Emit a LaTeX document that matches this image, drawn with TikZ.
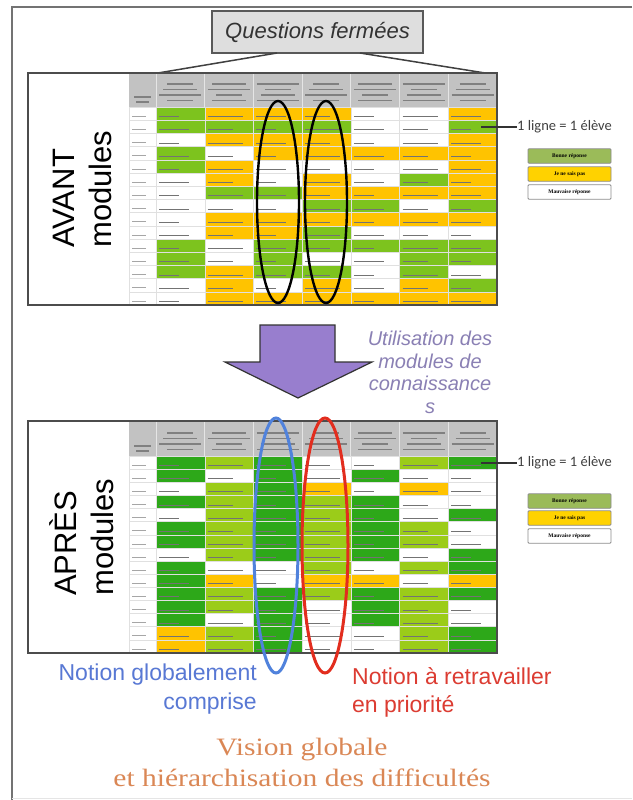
\documentclass[tikz,border=0pt]{standalone}
\usepackage{fontspec}
\setmainfont{Liberation Sans}
\newfontfamily\calfont{Carlito}
\newfontfamily\visfont{Liberation Serif}
\definecolor{cG}{RGB}{125,195,30}
\definecolor{cD}{RGB}{45,168,25}
\definecolor{cL}{RGB}{155,204,25}
\definecolor{cY}{RGB}{255,195,0}
\definecolor{cW}{RGB}{255,255,255}
\definecolor{lgG}{RGB}{155,187,89}
\definecolor{lgY}{RGB}{255,210,0}
\definecolor{arrowfill}{RGB}{152,126,206}
\definecolor{utilcol}{RGB}{138,128,180}
\definecolor{bluecol}{RGB}{88,120,212}
\definecolor{redcol}{RGB}{220,60,50}
\definecolor{orangecol}{RGB}{218,135,85}
\definecolor{blueell}{RGB}{80,130,220}
\definecolor{redell}{RGB}{226,45,30}
\tikzset{
  panel/.style={draw=black!70,line width=1.2pt},
  hdr/.style={fill=black!24},
  cellbox/.style={draw=black!12,line width=0.4pt},
  smudge/.style={black!55,line width=1pt},
  hsmudge/.style={black!50,line width=1.1pt},
  legendbox/.style={draw=black!45,line width=0.8pt,rounded corners=1pt,minimum width=83pt,minimum height=14.5pt,inner sep=0pt,font=\visfont\bfseries\fontsize{5.5}{6}\selectfont},
  lig/.style={font=\calfont\fontsize{14.5}{16}\selectfont,text=black!75,inner sep=0pt},
  leader/.style={draw=black!80,line width=1.3pt},
  bigside/.style={rotate=90,align=left,inner sep=0pt,font=\fontsize{31}{37}\selectfont},
  ell/.style={line width=2.4pt}
}
\newcommand\mytable[4]{%
  \fill[hdr] (129,#1) rectangle (497,#1+#2);
  \draw[hsmudge] (134,#1+#2-10) -- (151,#1+#2-10);
  \draw[hsmudge] (136,#1+#2-5) -- (149,#1+#2-5);
  \foreach \k in {0,...,6}{%
    \pgfmathsetmacro\xa{156+\k*48.71}
    \draw[black!10,line width=0.8pt] (\xa,#1) -- (\xa,#1+#2);
    \foreach \j in {0,1,2,3}{%
      \pgfmathsetmacro\ll{13+mod(\k+\j,3)*4}
      \draw[hsmudge] (\xa+24.35-\ll,#1+#2-23+\j*5.5) -- (\xa+24.35+\ll,#1+#2-23+\j*5.5);
    }
  }
  \foreach \row [count=\r from 0] in {#4}{%
    \pgfmathsetmacro\ya{#1+#2+\r*#3}
    \filldraw[fill=white,cellbox] (129,\ya) rectangle (156,\ya+#3);
    \draw[black!35,line width=0.8pt] (132,\ya+#3-4) -- (146,\ya+#3-4);
    \foreach \cc [count=\i from 0] in \row {%
      \pgfmathsetmacro\xa{156+\i*48.71}
      \filldraw[fill=c\cc,cellbox] (\xa,\ya) rectangle (\xa+48.71,\ya+#3);
      \pgfmathsetmacro\ll{20+mod(\i*3+\r*2,4)*5}
      \draw[smudge] (\xa+3,\ya+#3-3.5) -- (\xa+3+\ll,\ya+#3-3.5);
    }
  }
}
\begin{document}
\begin{tikzpicture}[x=1pt,y=-1pt]
\useasboundingbox (0,0) rectangle (632,800);
\fill[white] (0,0) rectangle (632,800);
% outer frame
\draw[black!55,line width=1.5pt] (12,800) -- (12,7) -- (632,7);
\draw[black!10,line width=1pt] (12,798.5) -- (632,798.5);

% title box
\node[draw=black!65,fill=black!13,line width=1.5pt,minimum width=211pt,minimum height=42pt,inner sep=0pt,
      font=\itshape\fontsize{22}{26}\selectfont,text=black!80] (q) at (317.5,32) {Questions fermées};
\coordinate (qa) at (277,53);
\coordinate (qb) at (360,53);
\coordinate (pa) at (158,73);
\coordinate (pb) at (485,73);
\draw[black!75,line width=1.5pt] (qa) -- (pa);
\draw[black!75,line width=1.5pt] (qb) -- (pb);

% AVANT panel
\fill[white] (28,73) rectangle (497,305);
\mytable{74}{33}{13.2}{{G,Y,Y,Y,W,W,Y},{G,G,G,G,W,W,G},{W,Y,Y,Y,W,W,Y},{G,W,Y,Y,Y,Y,Y},{G,Y,W,W,W,W,Y},{W,Y,W,Y,W,G,Y},{W,G,G,Y,Y,Y,Y},{W,W,W,G,G,W,G},{W,Y,Y,Y,Y,Y,Y},{W,Y,Y,G,W,W,W},{G,W,G,G,G,G,G},{G,W,G,W,W,G,G},{G,Y,G,G,W,G,W},{W,Y,W,Y,W,Y,G},{W,Y,Y,Y,Y,Y,Y}}
\draw[panel] (28,73) rectangle (497,305);
\node[bigside,anchor=west] (avant) at (82,248) {AVANT\\modules};
\draw[ell,black] (278,202) ellipse [x radius=21pt, y radius=101pt];
\draw[ell,black] (326,202) ellipse [x radius=21pt, y radius=101pt];

\node[lig,anchor=west] (lig1) at (517,127) {1 ligne = 1 élève};
\coordinate (lig1s) at (481,127);
\draw[leader] (lig1s) -- (lig1.west);
\node[legendbox,fill=lgG] (lgA1) at (569.5,156) {Bonne réponse};
\node[legendbox,fill=lgY] (lgA2) at (569.5,174) {Je ne sais pas};
\node[legendbox,fill=white] (lgA3) at (569.5,192) {Mauvaise réponse};

% arrow
\filldraw[fill=arrowfill,draw=black!80,line width=1.2pt,line join=miter]
  (260,325) -- (335,325) -- (335,362) -- (372,362) -- (298,398) -- (225,362) -- (260,362) -- cycle;
\node[anchor=north,align=center,inner sep=0pt,text=utilcol,font=\itshape\fontsize{20}{22.5}\selectfont] (util) at (430,331)
  {Utilisation des\\modules de\\connaissance\\s};

% APRES panel
\fill[white] (28,421) rectangle (497,653);
\mytable{422}{34}{13.13}{{D,L,D,W,W,L,D},{D,W,D,W,D,W,W},{W,L,D,Y,W,Y,W},{D,L,D,L,D,W,W},{W,L,D,L,D,W,D},{D,L,D,L,D,L,W},{D,L,D,L,D,L,W},{W,L,D,L,D,W,D},{D,W,W,L,W,L,D},{D,Y,W,Y,Y,W,Y},{D,L,D,L,D,L,D},{D,L,D,W,D,L,W},{D,W,D,W,D,L,W},{Y,L,D,W,W,L,D},{Y,L,D,W,W,L,D}}
\draw[panel] (28,421) rectangle (497,653);
\node[bigside,anchor=west] (apres) at (82,596) {APRÈS\\modules};
\draw[ell,blueell,line width=3pt] (276,545.5) ellipse [x radius=22pt, y radius=127.5pt];
\draw[ell,redell,line width=3pt] (325,545.5) ellipse [x radius=23pt, y radius=127.5pt];

\node[lig,anchor=west] (lig2) at (517,463) {1 ligne = 1 élève};
\coordinate (lig2s) at (481,463);
\draw[leader] (lig2s) -- (lig2.west);
\node[legendbox,fill=lgG] (lgB1) at (569.5,501) {Bonne réponse};
\node[legendbox,fill=lgY] (lgB2) at (569.5,518) {Je ne sais pas};
\node[legendbox,fill=white] (lgB3) at (569.5,536) {Mauvaise réponse};

% bottom texts
\node[anchor=north east,align=right,inner sep=0pt,text=bluecol,font=\fontsize{23}{28.5}\selectfont] (blue) at (257,664)
  {Notion globalement\\comprise};
\node[anchor=north west,align=left,inner sep=0pt,text=redcol,font=\fontsize{23}{28.5}\selectfont] (red) at (352,667)
  {Notion à retravailler\\en priorité};
\node[anchor=north,align=center,inner sep=0pt,text=orangecol,font=\visfont\fontsize{25}{31}\selectfont] (vision) at (302,738)
  {\scalebox{1.18}[1]{Vision globale}\\\scalebox{1.18}[1]{et hiérarchisation des difficultés}};
\end{tikzpicture}
\end{document}
